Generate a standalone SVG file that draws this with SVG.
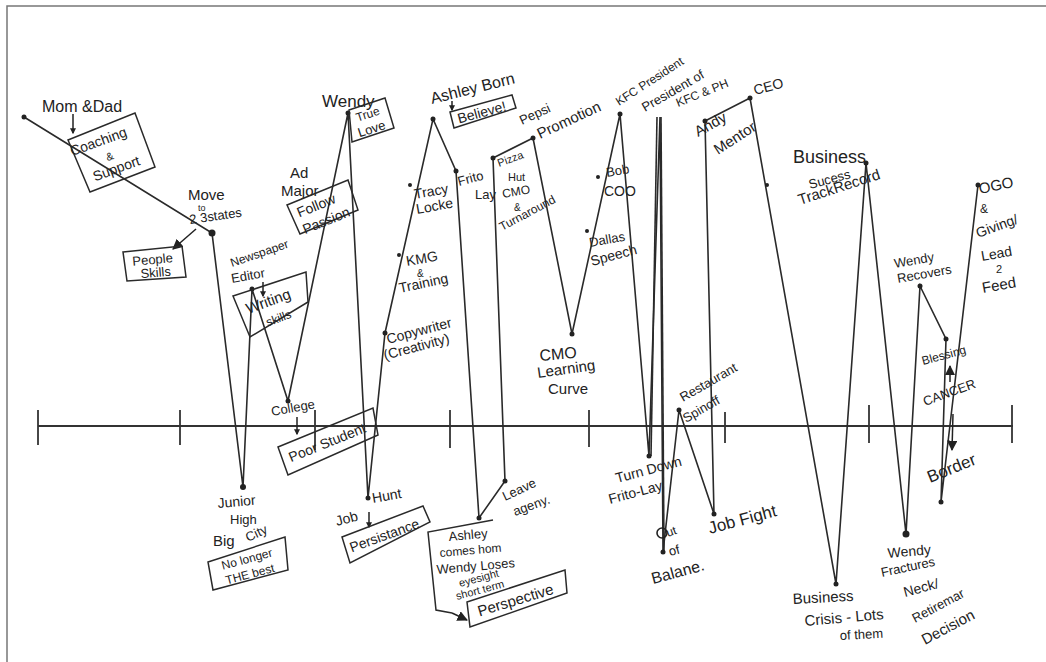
<svg xmlns="http://www.w3.org/2000/svg" width="1046" height="662" viewBox="0 0 1046 662">
<defs>
<style>
text{font-family:"Liberation Sans","DejaVu Sans",sans-serif;fill:#222;font-size:14px}
.ln{fill:none;stroke:#2a2a2a;stroke-width:1.6;stroke-linejoin:miter}
.box{fill:none;stroke:#2a2a2a;stroke-width:1.5}
.dot{fill:#222}
.tick{stroke:#333;stroke-width:1.8}
.ar{stroke:#222;stroke-width:1.5;fill:none}
.c{text-anchor:middle}
</style>
<marker id="ah" viewBox="0 0 10 10" refX="9" refY="5" markerWidth="7" markerHeight="7" orient="auto-start-reverse"><path d="M0,0L10,5L0,10z" fill="#222"/></marker>
<marker id="big" viewBox="0 0 10 10" refX="8" refY="5" markerWidth="4" markerHeight="4" orient="auto"><path d="M0,0L10,5L0,10z" fill="#222"/></marker>
</defs>
<rect width="1046" height="662" fill="#fff"/>
<path d="M7,662V6H1046" fill="none" stroke="#777" stroke-width="1.5"/>

<g id="axis">
<line x1="38" y1="426" x2="1013" y2="426" stroke="#333" stroke-width="1.8"/>
<line class="tick" x1="38" y1="410" x2="38" y2="445"/>
<line class="tick" x1="180" y1="410" x2="180" y2="445"/>
<line class="tick" x1="315" y1="410" x2="315" y2="450"/>
<line class="tick" x1="450" y1="410" x2="450" y2="448"/>
<line class="tick" x1="589" y1="410" x2="589" y2="447"/>
<line class="tick" x1="725" y1="412" x2="725" y2="443"/>
<line class="tick" x1="869" y1="405" x2="869" y2="443"/>
<line class="tick" x1="1012" y1="405" x2="1012" y2="443"/>
</g>

<g id="connectors">
<polyline class="ln" points="24,117 212,233 243,487 252,289 288,401 348,113 368,498 385,333 433,119 456,171 479,518 505,481 493,158 533,138 572,334 620,114 649,456 660,117 663,552 679,410 714,514 705,121 750,98 836,584 866,163 906,534 920,286 946,339 941,502 978,185"/>
<line class="ln" x1="657" y1="117" x2="651" y2="456" stroke-width="1.4"/>
<line class="ln" x1="661" y1="117" x2="664" y2="552" stroke-width="2.6"/>
<g class="dots">
<circle class="dot" cx="24" cy="117" r="2.5"/><circle class="dot" cx="212" cy="233" r="3.5"/><circle class="dot" cx="243" cy="487" r="3"/>
<circle class="dot" cx="252" cy="289" r="2.5"/><circle class="dot" cx="288" cy="401" r="2.5"/><circle class="dot" cx="348" cy="113" r="2.5"/>
<circle class="dot" cx="368" cy="498" r="2.5"/><circle class="dot" cx="385" cy="333" r="2.5"/><circle class="dot" cx="433" cy="119" r="2.5"/>
<circle class="dot" cx="456" cy="171" r="2.5"/><circle class="dot" cx="479" cy="518" r="2.5"/><circle class="dot" cx="505" cy="481" r="2.5"/>
<circle class="dot" cx="493" cy="158" r="2.5"/><circle class="dot" cx="533" cy="138" r="2.5"/><circle class="dot" cx="572" cy="334" r="2.5"/>
<circle class="dot" cx="620" cy="114" r="2.5"/><circle class="dot" cx="649" cy="456" r="2.5"/><circle class="dot" cx="663" cy="552" r="2.5"/>
<circle class="dot" cx="679" cy="410" r="2.5"/><circle class="dot" cx="714" cy="514" r="2.5"/><circle class="dot" cx="705" cy="121" r="2.5"/>
<circle class="dot" cx="750" cy="98" r="2.5"/><circle class="dot" cx="836" cy="584" r="2.5"/><circle class="dot" cx="866" cy="163" r="2.5"/>
<circle class="dot" cx="906" cy="534" r="3.5"/><circle class="dot" cx="920" cy="286" r="2.5"/><circle class="dot" cx="946" cy="339" r="2.5"/>
<circle class="dot" cx="978" cy="185" r="2.5"/><circle class="dot" cx="399" cy="255" r="2"/><circle class="dot" cx="410" cy="185" r="2"/>
<circle class="dot" cx="587" cy="231" r="2"/><circle class="dot" cx="598" cy="177" r="2"/><circle class="dot" cx="767" cy="185" r="2"/>
<circle class="dot" cx="941" cy="502" r="2.5"/>
</g>
<circle cx="662" cy="533" r="5" fill="none" stroke="#222" stroke-width="1.6"/>
</g>

<g id="mom-dad">
<text x="42" y="112" style="font-size:16px">Mom &amp;Dad</text>
<line class="ar" x1="73" y1="114" x2="73" y2="133" stroke-width="3" marker-end="url(#big)"/>
<polygon class="box" points="68,140 135,113 155,167 90,192"/>
<text class="c" x="100" y="146" transform="rotate(-20 100 146)">Coaching</text>
<text class="c" x="111" y="160" style="font-size:11px" transform="rotate(-20 111 160)">&amp;</text>
<text class="c" x="118" y="173" transform="rotate(-20 118 173)">Support</text>
</g>

<g id="move">
<text x="188" y="200" style="font-size:15px">Move</text>
<text x="198" y="211" style="font-size:9px">to</text>
<text x="190" y="224" style="font-size:13px" transform="rotate(-8 190 224)">2 3states</text>
<line class="ar" x1="196" y1="229" x2="173" y2="249" marker-end="url(#ah)"/>
<polygon class="box" points="123,252 182,246 186,277 127,281"/>
<text class="c" x="153" y="264" style="font-size:13px" transform="rotate(-5 153 264)">People</text>
<text class="c" x="156" y="277" style="font-size:13px" transform="rotate(-5 156 277)">Skills</text>
</g>

<g id="newspaper">
<text x="232" y="267" style="font-size:12px" transform="rotate(-19 232 267)">Newspaper</text>
<text x="232" y="283" style="font-size:13px" transform="rotate(-10 232 283)">Editor</text>
<line class="ar" x1="263" y1="282" x2="263" y2="296" stroke-width="3" marker-end="url(#big)"/>
<polygon class="box" points="233,296 306,272 308,302 250,337"/>
<text class="c" x="270" y="306" style="font-size:15px" transform="rotate(-20 270 306)">Writing</text>
<text class="c" x="280" y="322" style="font-size:12px" transform="rotate(-20 280 322)">skills</text>
</g>

<g id="ad-major">
<text x="290" y="178" style="font-size:15px">Ad</text>
<text x="281" y="196" style="font-size:15px">Major</text>
<polygon class="box" points="287,205 348,180 358,210 300,234"/>
<text class="c" x="318" y="210" transform="rotate(-22 318 210)">Follow</text>
<text class="c" x="328" y="225" transform="rotate(-22 328 225)">Passion</text>
</g>

<g id="wendy">
<text x="322" y="107" style="font-size:17px">Wendy</text>
<polygon class="box" points="349,110 385,98 394,128 352,142"/>
<text class="c" x="369" y="118" style="font-size:12px" transform="rotate(-18 369 118)">True</text>
<text class="c" x="373" y="133" style="font-size:13px" transform="rotate(-18 373 133)">Love</text>
</g>

<g id="ashley-born">
<text x="432" y="104" style="font-size:16px" transform="rotate(-14 432 104)">Ashley Born</text>
<line class="ar" x1="452" y1="101" x2="452" y2="110" stroke-width="2.5" marker-end="url(#big)"/>
<polygon class="box" points="450,112 512,95 516,108 454,128"/>
<text class="c" x="483" y="117" style="font-size:14px" transform="rotate(-15 483 117)">Believe!</text>
</g>

<g id="agency-years">
<text x="415" y="199" transform="rotate(-10 415 199)">Tracy</text>
<text x="417" y="214" transform="rotate(-10 417 214)">Locke</text>
<text x="459" y="186" style="font-size:13px" transform="rotate(-15 459 186)">Frito</text>
<text x="475" y="199" style="font-size:13px">Lay</text>
<text x="407" y="266" transform="rotate(-10 407 266)">KMG</text>
<text x="417" y="277" style="font-size:10px">&amp;</text>
<text x="400" y="293" transform="rotate(-12 400 293)">Training</text>
<text x="388" y="344" transform="rotate(-15 388 344)">Copywriter</text>
<text x="385" y="360" transform="rotate(-15 385 360)">(Creativity)</text>
</g>

<g id="pepsi">
<text x="522" y="125" style="font-size:13px" transform="rotate(-25 522 125)">Pepsi</text>
<text x="540" y="139" style="font-size:15px" transform="rotate(-25 540 139)">Promotion</text>
<text x="499" y="167" style="font-size:11px" transform="rotate(-20 499 167)">Pizza</text>
<text x="508" y="181" style="font-size:11px">Hut</text>
<text x="503" y="198" style="font-size:12px" transform="rotate(-10 503 198)">CMO</text>
<text x="514" y="211" style="font-size:10px">&amp;</text>
<text x="502" y="231" style="font-size:12px" transform="rotate(-28 502 231)">Turnaround</text>
</g>

<g id="cmo-learning">
<text x="540" y="361" style="font-size:16px" transform="rotate(-5 540 361)">CMO</text>
<text x="538" y="378" style="font-size:15px" transform="rotate(-8 538 378)">Learning</text>
<text x="548" y="394" style="font-size:15px">Curve</text>
</g>

<g id="kfc">
<text x="590" y="247" style="font-size:13px" transform="rotate(-10 590 247)">Dallas</text>
<text x="592" y="266" transform="rotate(-15 592 266)">Speech</text>
<text x="607" y="177" style="font-size:13px" transform="rotate(-10 607 177)">Bob</text>
<text x="604" y="196">COO</text>
<text x="619" y="106" style="font-size:12px" transform="rotate(-33 619 106)">KFC President</text>
<text x="645" y="112" style="font-size:13px" transform="rotate(-30 645 112)">President of</text>
<text x="678" y="107" style="font-size:12px" transform="rotate(-22 678 107)">KFC &amp; PH</text>
</g>

<g id="ceo">
<text x="698" y="137" style="font-size:15px" transform="rotate(-29 698 137)">Andy</text>
<text x="718" y="155" style="font-size:15px" transform="rotate(-33 718 155)">Mentor</text>
<text x="755" y="95" transform="rotate(-15 755 95)">CEO</text>
</g>

<g id="business-success">
<text x="793" y="163" style="font-size:18px">Business</text>
<text x="810" y="189" style="font-size:13px" transform="rotate(-15 810 189)">Sucess</text>
<text x="800" y="205" style="font-size:15px" transform="rotate(-18 800 205)">TrackRecord</text>
</g>

<g id="wendy-recovers">
<text x="895" y="268" style="font-size:13px" transform="rotate(-10 895 268)">Wendy</text>
<text x="898" y="283" style="font-size:13px" transform="rotate(-10 898 283)">Recovers</text>
<text x="923" y="365" style="font-size:12px" transform="rotate(-15 923 365)">Blessing</text>
<line class="ar" x1="950" y1="382" x2="950" y2="366" marker-end="url(#ah)"/>
<text x="925" y="406" style="font-size:13px" transform="rotate(-20 925 406)">CANCER</text>
<line class="ar" x1="953" y1="414" x2="952" y2="450" marker-end="url(#ah)"/>
<text x="930" y="483" style="font-size:17px" transform="rotate(-22 930 483)">Border</text>
</g>

<g id="ogo">
<text x="980" y="194" style="font-size:15px" transform="rotate(-12 980 194)">OGO</text>
<text x="980" y="213" style="font-size:12px">&amp;</text>
<text x="978" y="238" transform="rotate(-20 978 238)">Giving/</text>
<text x="982" y="261" transform="rotate(-10 982 261)">Lead</text>
<text x="996" y="273" style="font-size:11px">2</text>
<text x="983" y="293" style="font-size:15px" transform="rotate(-10 983 293)">Feed</text>
</g>

<g id="college">
<text x="272" y="416" style="font-size:13px" transform="rotate(-10 272 416)">College</text>
<line class="ar" x1="297" y1="417" x2="297" y2="434" stroke-width="3" marker-end="url(#big)"/>
<polygon class="box" points="278,447 373,408 378,435 288,475"/>
<text class="c" x="329" y="447" transform="rotate(-22 329 447)">Poor Student</text>
</g>

<g id="junior-high">
<text x="218" y="508" transform="rotate(-5 218 508)">Junior</text>
<text x="230" y="524" style="font-size:13px">High</text>
<text x="248" y="542" style="font-size:13px" transform="rotate(-25 248 542)">City</text>
<text x="213" y="546" style="font-size:15px">Big</text>
<polygon class="box" points="208,562 285,537 288,570 213,590"/>
<text class="c" x="248" y="563" style="font-size:12px" transform="rotate(-15 248 563)">No longer</text>
<text class="c" x="251" y="578" style="font-size:12px" transform="rotate(-15 251 578)">THE best</text>
</g>

<g id="job-hunt">
<text x="337" y="526" transform="rotate(-15 337 526)">Job</text>
<text x="373" y="503" transform="rotate(-10 373 503)">Hunt</text>
<line class="ar" x1="369" y1="512" x2="369" y2="527" stroke-width="3" marker-end="url(#big)"/>
<polygon class="box" points="342,537 423,506 430,522 350,563"/>
<text class="c" x="386" y="540" transform="rotate(-20 386 540)">Persistance</text>
</g>

<g id="ashley-home">
<polyline class="box" points="493,520 428,532 436,610 452,613"/>
<line class="ar" x1="452" y1="613" x2="467" y2="620" marker-end="url(#ah)"/>
<text x="449" y="541" style="font-size:13px" transform="rotate(-5 449 541)">Ashley</text>
<text x="440" y="557" style="font-size:12px" transform="rotate(-5 440 557)">comes hom</text>
<text x="437" y="574" style="font-size:13px" transform="rotate(-5 437 574)">Wendy Loses</text>
<text x="460" y="587" style="font-size:11px" transform="rotate(-15 460 587)">eyesight</text>
<text x="457" y="600" style="font-size:11px" transform="rotate(-15 457 600)">short term</text>
<polygon class="box" points="467,602 565,570 567,593 470,627"/>
<text class="c" x="517" y="605" style="font-size:15px" transform="rotate(-17 517 605)">Perspective</text>
</g>

<g id="leave-agency">
<text x="505" y="501" style="font-size:13px" transform="rotate(-25 505 501)">Leave</text>
<text x="515" y="516" style="font-size:13px" transform="rotate(-20 515 516)">ageny.</text>
</g>

<g id="turn-down">
<text x="617" y="483" transform="rotate(-15 617 483)">Turn Down</text>
<text x="610" y="504" transform="rotate(-15 610 504)">Frito-Lay</text>
</g>

<g id="out-of-balance">
<text x="668" y="537" style="font-size:12px" transform="rotate(-20 668 537)">ut</text>
<text x="670" y="556" style="font-size:13px" transform="rotate(-15 670 556)">of</text>
<text x="653" y="584" style="font-size:16px" transform="rotate(-15 653 584)">Balane.</text>
</g>

<g id="restaurant">
<text x="683" y="402" style="font-size:13px" transform="rotate(-30 683 402)">Restaurant</text>
<text x="686" y="423" style="font-size:13px" transform="rotate(-30 686 423)">Spinoff</text>
</g>

<g id="job-fight">
<text x="710" y="534" style="font-size:17px" transform="rotate(-15 710 534)">Job Fight</text>
</g>

<g id="business-crisis">
<text x="793" y="604" style="font-size:15px" transform="rotate(-3 793 604)">Business</text>
<text x="805" y="626" style="font-size:15px" transform="rotate(-5 805 626)">Crisis - Lots</text>
<text x="840" y="640" style="font-size:13px" transform="rotate(-3 840 640)">of them</text>
</g>

<g id="wendy-fractures">
<text x="888" y="558" transform="rotate(-5 888 558)">Wendy</text>
<text x="882" y="577" style="font-size:13px" transform="rotate(-12 882 577)">Fractures</text>
<text x="905" y="597" transform="rotate(-15 905 597)">Neck/</text>
<text x="915" y="623" style="font-size:13px" transform="rotate(-28 915 623)">Retiremar</text>
<text x="925" y="645" style="font-size:15px" transform="rotate(-28 925 645)">Decision</text>
</g>
</svg>
